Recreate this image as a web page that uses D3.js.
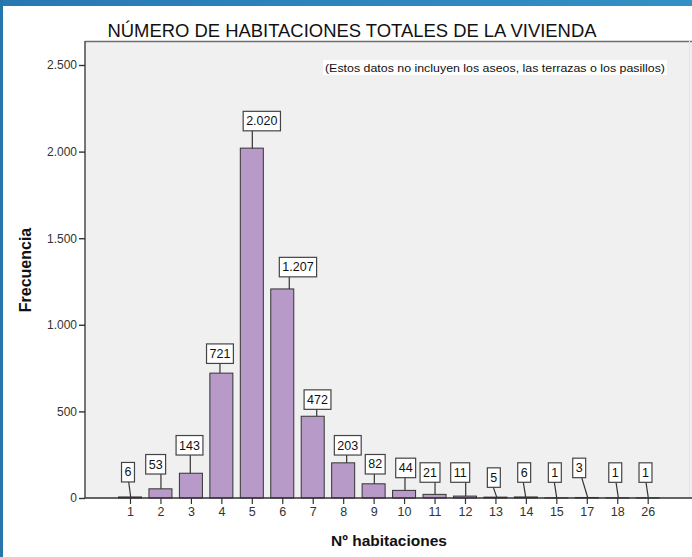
<!DOCTYPE html>
<html><head><meta charset="utf-8">
<script src="https://cdn.jsdelivr.net/npm/d3@7"></script>
<style>body{margin:0;background:#fff}svg{display:block}</style>
</head><body>
<svg id="c" width="692" height="557"></svg>
<script>
// ---- data ----
const categories = ["1","2","3","4","5","6","7","8","9","10","11","12","13","14","15","17","18","26"];
const frequencies = [6,53,143,721,2020,1207,472,203,82,44,21,11,5,6,1,3,1,1];
const yTicks = [0,500,1000,1500,2000,2500];
const titleText = "NÚMERO DE HABITACIONES TOTALES DE LA VIVIENDA";
const noteText = "(Estos datos no incluyen los aseos, las terrazas o los pasillos)";
const yLabel = "Frecuencia";
const xLabel = "Nº habitaciones";
// label layout (pixel offsets): box centre dx, gap above bar top, leader dx at bar / at box
const labelBoxDx = [-2,-4.8,-1.4,-1.4,10,15.7,4.8,4.6,1.6,1.6,-4.5,-4.8,-1.6,-1.7,-1.5,-7.6,-2,-2.2];
const labelGap = [15,14.8,18.2,9.7,17.3,12.1,6.9,7.8,9.8,12.7,12.1,13.8,9.8,14.7,15.5,19.8,15.5,15.5];
const leaderTopDx = [0.7,0.5,-0.6,-1.4,0.5,7,4,3.5,0.7,0.9,0.5,0.7,1.3,-0.2,0.4,0.9,1.1,0.6];
const leaderBotDx = [-1.3,0.5,-0.6,-1.4,0.5,7,4,3.5,0.7,0.9,0.5,0.7,-2.1,-2.6,-2,-5.1,-1.2,-1.7];

const svg = d3.select("#c");
const fmt = d3.formatLocale({decimal:",", thousands:".", grouping:[3], currency:["",""]}).format(",d");

// frame bars (blue window edge)
const defs = svg.append("defs");
const g1 = defs.append("linearGradient").attr("id","bl").attr("x1",0).attr("x2",1);
g1.append("stop").attr("offset",0).attr("stop-color","#2879b2");
g1.append("stop").attr("offset",1).attr("stop-color","#3490c4");
svg.append("rect").attr("x",0).attr("y",0).attr("width",692).attr("height",6).attr("fill","url(#bl)");
svg.append("rect").attr("x",0).attr("y",0).attr("width",3).attr("height",557).attr("fill","#2675ad");

const plot = {left:85, top:41, right:692, bottom:498};
const y = d3.scaleLinear().domain([0,2500]).range([plot.bottom, 65]);
const x = d3.scalePoint().domain(categories).range([130, 647.7]);
const barW = 23;

// plot background + frame
svg.append("rect").attr("x",plot.left).attr("y",plot.top)
  .attr("width",plot.right-plot.left).attr("height",plot.bottom-plot.top).attr("fill","#f0f0f0");
svg.append("line").attr("x1",plot.left).attr("x2",plot.right).attr("y1",plot.top+0.5).attr("y2",plot.top+0.5)
  .attr("stroke","#6e6e6e").attr("stroke-width",1.6);
svg.append("line").attr("x1",plot.right-2.5).attr("x2",plot.right-2.5).attr("y1",plot.top).attr("y2",plot.bottom)
  .attr("stroke","#e4e4e4").attr("stroke-width",1);

// title & note
svg.append("text").attr("x",352).attr("y",37).attr("text-anchor","middle")
  .attr("font-family","Liberation Sans, Arial, sans-serif").attr("font-size",17.5).attr("fill","#111")
  .attr("textLength",489).attr("lengthAdjust","spacingAndGlyphs").text(titleText);
const noteG = svg.append("g");
noteG.append("rect").attr("x",323).attr("y",60).attr("width",344).attr("height",15).attr("fill","#fff");
noteG.append("text").attr("x",325).attr("y",72)
  .attr("font-family","Liberation Sans, Arial, sans-serif").attr("font-size",11).attr("fill","#111")
  .attr("textLength",340).attr("lengthAdjust","spacingAndGlyphs").text(noteText);

// bars
svg.append("g").selectAll("rect").data(frequencies).join("rect")
  .attr("x",(d,i)=>x(categories[i])-barW/2)
  .attr("y",d=>y(d))
  .attr("width",barW)
  .attr("height",d=>plot.bottom-y(d))
  .attr("fill","#b89ac9").attr("stroke","#333").attr("stroke-width",1);

// y axis
const yAxis = d3.axisLeft(y).tickValues(yTicks).tickSize(6).tickFormat(fmt);
const gy = svg.append("g").attr("transform",`translate(${plot.left},0)`).call(yAxis);
gy.select(".domain").attr("d",`M0,${plot.top}V${plot.bottom}`).attr("stroke","#555").attr("stroke-width",1.6);
gy.selectAll(".tick line").attr("stroke","#333").attr("stroke-width",1.4);
gy.selectAll(".tick text").attr("font-family","Liberation Sans, Arial, sans-serif").attr("font-size",12).attr("fill","#333").attr("x",-8);

// x axis
const xAxis = d3.axisBottom(x).tickSize(6).tickPadding(3);
const gx = svg.append("g").attr("transform",`translate(0,${plot.bottom})`).call(xAxis);
gx.select(".domain").attr("d",`M${plot.left},0H${plot.right}`).attr("stroke","#333").attr("stroke-width",1.4);
gx.selectAll(".tick line").attr("stroke","#333").attr("stroke-width",1.2);
gx.selectAll(".tick text").attr("font-family","Liberation Sans, Arial, sans-serif").attr("font-size",12.5).attr("fill","#333");

// value labels
const lab = svg.append("g").selectAll("g").data(frequencies).join("g");
lab.each(function(d,i){
  const g = d3.select(this);
  const cx = x(categories[i]);
  const top = y(d);
  const boxBottom = top - labelGap[i];
  const txt = g.append("text").attr("x",cx+labelBoxDx[i]).attr("y",boxBottom-5.5)
    .attr("text-anchor","middle").attr("font-family","Liberation Sans, Arial, sans-serif")
    .attr("font-size",12.5).attr("fill","#111").text(fmt(d));
  const w = txt.node().getComputedTextLength() + 6;
  g.insert("rect","text").attr("x",cx+labelBoxDx[i]-w/2).attr("y",boxBottom-19.5)
    .attr("width",w).attr("height",19.5).attr("fill","#fff").attr("stroke","#444").attr("stroke-width",1.2);
  g.insert("line","rect").attr("x1",cx+leaderTopDx[i]).attr("y1",top)
    .attr("x2",cx+leaderBotDx[i]).attr("y2",boxBottom).attr("stroke","#333").attr("stroke-width",1.2);
});

// axis titles
svg.append("text").attr("transform","translate(31,270) rotate(-90)").attr("text-anchor","middle")
  .attr("font-family","Liberation Sans, Arial, sans-serif").attr("font-weight","bold").attr("font-size",16)
  .attr("fill","#111").text(yLabel);
svg.append("text").attr("x",389).attr("y",546).attr("text-anchor","middle")
  .attr("font-family","Liberation Sans, Arial, sans-serif").attr("font-weight","bold").attr("font-size",15.5)
  .attr("fill","#111").text(xLabel);
</script>
</body></html>
